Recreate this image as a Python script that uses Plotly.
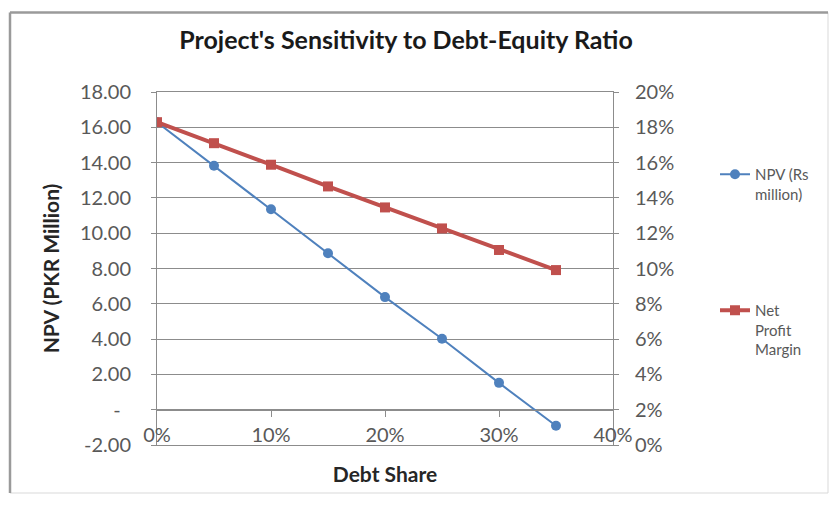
import plotly.graph_objects as go

# ---- data -------------------------------------------------------------
debt_share = [0.00, 0.05, 0.10, 0.15, 0.20, 0.25, 0.30, 0.35]
npv_rs_million = [16.29, 13.82, 11.36, 8.86, 6.38, 4.02, 1.52, -0.91]
net_profit_margin = [0.1829, 0.1710, 0.1588, 0.1465, 0.1346, 0.1227, 0.1105, 0.0991]

x_tick_vals = [0.0, 0.1, 0.2, 0.3, 0.4]
npv_tick_vals = [-2, 0, 2, 4, 6, 8, 10, 12, 14, 16, 18]
npv_tick_text = ["-2.00", "-\u00a0\u00a0", "2.00", "4.00", "6.00", "8.00",
                 "10.00", "12.00", "14.00", "16.00", "18.00"]

# ---- styling ----------------------------------------------------------
W, H = 830, 505
L, R, T, B = 157, 217, 92, 60          # plot area margins
FONT = "Lato, Carlito, Calibri, sans-serif"
GRID = "#8c8c8c"
TICK_TXT = "#595959"
BLUE = "#4F81BD"
RED = "#C0504D"

fig = go.Figure()

fig.add_trace(go.Scatter(
    x=debt_share, y=npv_rs_million, name="NPV (Rs<br>million)",
    mode="lines+markers", line=dict(color=BLUE, width=2),
    marker=dict(symbol="circle", size=10, color=BLUE),
    legend="legend", yaxis="y", xaxis="x",
))
fig.add_trace(go.Scatter(
    x=debt_share, y=net_profit_margin, name="Net<br>Profit<br>Margin",
    mode="lines+markers", line=dict(color=RED, width=4),
    marker=dict(symbol="square", size=10, color=RED),
    legend="legend2", yaxis="y2", xaxis="x",
))
# empty trace that carries the horizontal axis drawn at NPV = 0
fig.add_trace(go.Scatter(x=[None], y=[None], xaxis="x3", yaxis="y",
                         showlegend=False, hoverinfo="skip"))


def px_x(p):
    return (p - L) / (W - L - R)


def px_y(p):
    return (H - B - p) / (H - T - B)


# chart frame
fig.add_shape(type="rect", xref="paper", yref="paper",
              x0=px_x(10), x1=px_x(828), y0=px_y(493), y1=px_y(12.5),
              line=dict(color="#d9d9d9", width=1), layer="below")
fig.add_shape(type="line", xref="paper", yref="paper",
              x0=px_x(10), x1=px_x(10), y0=px_y(493), y1=px_y(12.5),
              line=dict(color="#9a9a9a", width=2.5))
fig.add_shape(type="line", xref="paper", yref="paper",
              x0=px_x(10), x1=px_x(828), y0=px_y(12.5), y1=px_y(12.5),
              line=dict(color="#9a9a9a", width=2.5))

fig.update_layout(
    width=W, height=H,
    margin=dict(l=L, r=R, t=T, b=B, pad=0),
    paper_bgcolor="white", plot_bgcolor="white",
    font=dict(family=FONT, color=TICK_TXT),
    title=dict(text="Project's Sensitivity to Debt-Equity Ratio",
               xref="container", yref="container",
               x=406 / W, y=1 - 40 / H, xanchor="center", yanchor="middle",
               font=dict(family=FONT, size=25, color="#1a1a1a", weight="bold")),
    xaxis=dict(
        domain=[0, 1], range=[0, 0.4], tickvals=x_tick_vals, tickformat=".0%",
        ticklabelposition="inside", ticklabeloverflow="allow",
        tickfont=dict(size=20, color=TICK_TXT),
        showgrid=False, zeroline=False,
        showline=True, linecolor=GRID, linewidth=1, mirror=True, ticks="",
        title=dict(text="Debt Share", standoff=22,
                   font=dict(family=FONT, size=21, color="#262626", weight="bold")),
    ),
    xaxis3=dict(
        overlaying="x", anchor="free", position=0.1, side="bottom",
        range=[0, 0.4], tickvals=x_tick_vals[1:], ticks="outside", ticklen=6,
        tickcolor=GRID, showticklabels=False, showgrid=False, zeroline=False,
        showline=True, linecolor=GRID, linewidth=1,
    ),
    yaxis=dict(
        domain=[0, 1], range=[-2, 18], tickvals=npv_tick_vals, ticktext=npv_tick_text,
        tickfont=dict(size=20, color=TICK_TXT), ticklabelstandoff=16,
        ticks="outside", ticklen=5, tickcolor=GRID,
        showgrid=True, gridcolor=GRID, gridwidth=1, zeroline=False,
        showline=True, linecolor=GRID, linewidth=1,
        title=dict(text="NPV (PKR Million)", standoff=14,
                   font=dict(family=FONT, size=21, color="#262626", weight="bold")),
    ),
    yaxis2=dict(
        overlaying="y", side="right", anchor="x", range=[0, 0.2], dtick=0.02,
        tick0=0, tickformat=".0%", tickfont=dict(size=20, color=TICK_TXT),
        ticklabelstandoff=12, ticks="outside", ticklen=5, tickcolor=GRID,
        showgrid=False, zeroline=False, showline=True, linecolor=GRID, linewidth=1,
    ),
    legend=dict(xref="container", yref="container", x=715 / W, y=1 - 158 / H,
                xanchor="left", yanchor="top", valign="top",
                font=dict(family=FONT, size=15, color=TICK_TXT),
                bgcolor="rgba(0,0,0,0)"),
    legend2=dict(xref="container", yref="container", x=715 / W, y=1 - 294 / H,
                 xanchor="left", yanchor="top", valign="top",
                 font=dict(family=FONT, size=15, color=TICK_TXT),
                 bgcolor="rgba(0,0,0,0)"),
    showlegend=True,
)

fig.write_html("out.html")
